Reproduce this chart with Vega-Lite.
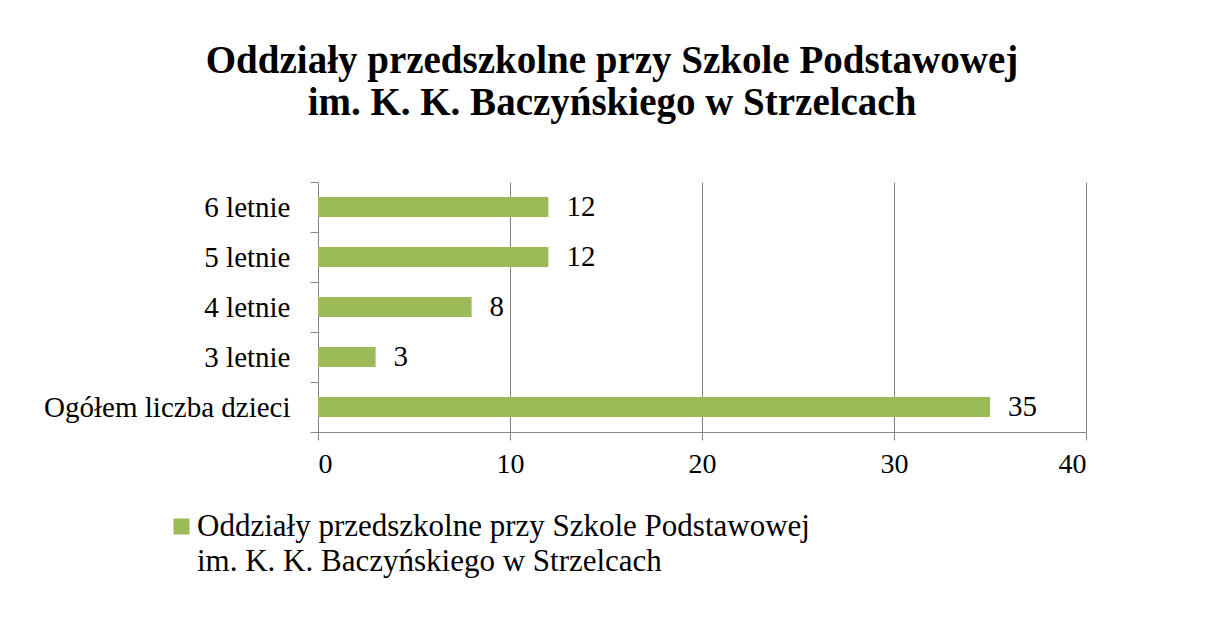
{
  "$schema": "https://vega.github.io/schema/vega-lite/v6.json",
  "width": 768,
  "height": 250,
  "autosize": {"type": "none"},
  "padding": {"left": 318, "top": 182, "right": 122, "bottom": 198},
  "background": "white",
  "title": {
    "text": ["Oddziały przedszkolne przy Szkole Podstawowej", "im. K. K. Baczyńskiego w Strzelcach"],
    "font": "Liberation Serif",
    "fontSize": 39,
    "fontWeight": "bold",
    "color": "black",
    "lineHeight": 42,
    "anchor": "middle",
    "dx": -90,
    "offset": 45
  },
  "data": {
    "values": [
      {"kategoria": "6 letnie", "liczba": 12, "seria": "Oddziały przedszkolne przy Szkole Podstawowej im. K. K. Baczyńskiego w Strzelcach"},
      {"kategoria": "5 letnie", "liczba": 12, "seria": "Oddziały przedszkolne przy Szkole Podstawowej im. K. K. Baczyńskiego w Strzelcach"},
      {"kategoria": "4 letnie", "liczba": 8, "seria": "Oddziały przedszkolne przy Szkole Podstawowej im. K. K. Baczyńskiego w Strzelcach"},
      {"kategoria": "3 letnie", "liczba": 3, "seria": "Oddziały przedszkolne przy Szkole Podstawowej im. K. K. Baczyńskiego w Strzelcach"},
      {"kategoria": "Ogółem liczba dzieci", "liczba": 35, "seria": "Oddziały przedszkolne przy Szkole Podstawowej im. K. K. Baczyńskiego w Strzelcach"}
    ]
  },
  "encoding": {
    "y": {
      "field": "kategoria",
      "type": "nominal",
      "sort": null,
      "title": null,
      "scale": {"paddingInner": 0, "paddingOuter": 0},
      "axis": {
        "tickBand": "extent",
        "domainColor": "#868686",
        "tickColor": "#868686",
        "tickSize": 8,
        "labelFont": "Liberation Serif",
        "labelFontSize": 29,
        "labelColor": "black",
        "labelPadding": 20,
        "labelLimit": 400,
        "grid": false
      }
    },
    "x": {
      "field": "liczba",
      "type": "quantitative",
      "title": null,
      "scale": {"domain": [0, 40], "nice": false},
      "axis": {
        "values": [0, 10, 20, 30, 40],
        "domainColor": "#868686",
        "tickColor": "#868686",
        "gridColor": "#868686",
        "gridOpacity": 1,
        "tickSize": 8,
        "labelFont": "Liberation Serif",
        "labelFontSize": 28,
        "labelColor": "black",
        "labelPadding": 10
      }
    }
  },
  "layer": [
    {
      "mark": {"type": "bar", "color": "#9BBB59", "height": {"band": 0.4}},
      "encoding": {
        "color": {
          "field": "seria",
          "type": "nominal",
          "scale": {"range": ["#9BBB59"]},
          "legend": {
            "title": null,
            "orient": "none",
            "legendX": -152,
            "legendY": 329,
            "symbolType": "square",
            "symbolSize": 256,
            "symbolStrokeWidth": 0,
            "symbolOpacity": 1,
            "labelFont": "Liberation Serif",
            "labelFontSize": 31,
            "labelColor": "black",
            "labelLimit": 900,
            "labelOffset": 0,
            "labelExpr": "['Oddziały przedszkolne przy Szkole Podstawowej', 'im. K. K. Baczyńskiego w Strzelcach']"
          }
        }
      }
    },
    {
      "mark": {
        "type": "text",
        "align": "left",
        "baseline": "middle",
        "dx": 18,
        "font": "Liberation Serif",
        "fontSize": 29,
        "color": "black"
      },
      "encoding": {
        "text": {"field": "liczba", "type": "quantitative"}
      }
    }
  ],
  "config": {
    "view": {"stroke": null},
    "style": {"guide-label": {"lineHeight": 35}}
  }
}
